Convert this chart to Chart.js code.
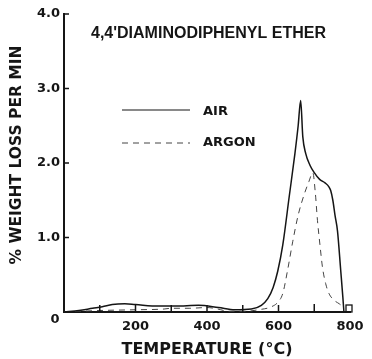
<!DOCTYPE html>
<html>
<head>
<meta charset="utf-8">
<script src="https://cdn.jsdelivr.net/npm/chart.js@4.4.0/dist/chart.umd.min.js"></script>
<style>
  html, body { margin: 0; padding: 0; background: #fff; }
  #wrap { width: 372px; height: 359px; }
</style>
</head>
<body>
<div id="wrap"><canvas id="grafico" width="372" height="359"></canvas></div>
<script>
// datos (temperatura en °C, % perdida de peso por min)
const tempAire = [0, 42, 80, 107, 135, 170, 200, 265, 312, 376, 432, 478, 524, 552, 570, 585, 598, 612, 630, 646, 655, 662, 668, 676, 688, 700, 715, 731, 741, 746, 752, 758, 765, 774, 780, 783];
const perdidaAire = [0, 0.02, 0.05, 0.07, 0.10, 0.11, 0.10, 0.08, 0.08, 0.09, 0.06, 0.03, 0.04, 0.09, 0.18, 0.33, 0.55, 0.90, 1.55, 2.13, 2.50, 2.84, 2.35, 2.13, 1.97, 1.87, 1.78, 1.73, 1.68, 1.63, 1.50, 1.30, 1.09, 0.56, 0.20, 0];

const tempArgon = [0, 100, 200, 280, 300, 350, 400, 430, 460, 510, 543, 580, 600, 612, 625, 640, 655, 672, 685, 696, 703, 709, 716, 723, 732, 741, 755, 770, 783];
const perdidaArgon = [0, 0.02, 0.03, 0.04, 0.05, 0.05, 0.06, 0.04, 0.01, 0.01, 0.03, 0.07, 0.14, 0.25, 0.55, 0.95, 1.30, 1.58, 1.75, 1.87, 1.60, 1.23, 0.90, 0.60, 0.38, 0.25, 0.16, 0.11, 0.06];

const ticksX = [100, 200, 300, 400, 500, 600, 700];
const ticksY = [1, 2, 3, 4];

const tinta = '#151515';
const fuenteEje = '"DejaVu Sans", sans-serif';

function puntos(xs, ys) {
    return xs.map((x, i) => ({ x: x, y: ys[i] }));
}

// marcas hacia adentro, titulo, leyenda y el "0" de la esquina
const extras = {
    id: 'extras',
    afterDraw(chart) {
        const ctx = chart.ctx;
        const sx = chart.scales.x;
        const sy = chart.scales.y;
        const base = sy.getPixelForValue(0);
        const izq = sx.getPixelForValue(0);
        ctx.save();
        ctx.strokeStyle = tinta;
        ctx.lineWidth = 1.5;
        ctx.beginPath();
        ticksX.forEach(v => {
            const px = sx.getPixelForValue(v);
            ctx.moveTo(px, base);
            ctx.lineTo(px, base - (v === 700 ? 8 : 7));
        });
        ticksY.forEach(v => {
            const py = sy.getPixelForValue(v);
            ctx.moveTo(izq, py);
            ctx.lineTo(izq + 5, py);
        });
        ctx.stroke();
        // cajita al final del eje x
        const px800 = sx.getPixelForValue(800);
        ctx.lineWidth = 1.3;
        ctx.strokeRect(px800 - 4, base - 7, 6, 7);

        ctx.fillStyle = tinta;
        ctx.textBaseline = 'middle';
        ctx.font = 'bold 13px ' + fuenteEje;
        ctx.textAlign = 'center';
        ctx.fillText('0', 55, 320);

        ctx.textAlign = 'left';
        ctx.font = 'bold 16px "Liberation Sans", sans-serif';
        ctx.fillText("4,4'DIAMINODIPHENYL ETHER", 91, 34);

        // leyenda
        ctx.font = 'bold 13px ' + fuenteEje;
        ctx.fillText('AIR', 203, 112);
        ctx.fillText('ARGON', 203, 143);
        ctx.lineWidth = 1.2;
        ctx.beginPath();
        ctx.moveTo(122, 110);
        ctx.lineTo(190, 110);
        ctx.stroke();
        ctx.strokeStyle = '#444';
        ctx.lineWidth = 1;
        ctx.setLineDash([6, 5]);
        ctx.beginPath();
        ctx.moveTo(122, 143);
        ctx.lineTo(190, 143);
        ctx.stroke();
        ctx.setLineDash([]);

        // titulo del eje y
        ctx.translate(17, 155);
        ctx.rotate(-Math.PI / 2);
        ctx.textAlign = 'center';
        ctx.font = 'bold 15.5px ' + fuenteEje;
        ctx.fillText('% WEIGHT LOSS PER MIN', 0, 0);
        ctx.restore();
    }
};

new Chart(document.getElementById('grafico'), {
    type: 'line',
    data: {
        datasets: [
            {
                label: 'AIR',
                data: puntos(tempAire, perdidaAire),
                borderColor: tinta,
                borderWidth: 1.5,
                pointRadius: 0,
                cubicInterpolationMode: 'monotone'
            },
            {
                label: 'ARGON',
                data: puntos(tempArgon, perdidaArgon),
                borderColor: '#444',
                borderWidth: 1,
                borderDash: [6, 5],
                pointRadius: 0,
                cubicInterpolationMode: 'monotone'
            }
        ]
    },
    options: {
        responsive: false,
        animation: false,
        layout: { padding: { top: 14, right: 22, left: 0, bottom: 0 } },
        plugins: {
            legend: { display: false },
            tooltip: { enabled: false }
        },
        scales: {
            x: {
                type: 'linear',
                min: 0,
                max: 800,
                afterFit: s => { s.height = 47; },
                border: { color: tinta, width: 2 },
                grid: { display: true, drawOnChartArea: false, drawTicks: false },
                ticks: {
                    stepSize: 100,
                    autoSkip: false,
                    maxRotation: 0,
                    padding: 7,
                    color: tinta,
                    font: { family: fuenteEje, size: 13, weight: 'bold' },
                    callback: v => (v > 0 && v % 200 === 0) ? String(v) : ''
                },
                title: {
                    display: true,
                    text: 'TEMPERATURE (°C)',
                    color: tinta,
                    padding: { top: 0, bottom: 0 },
                    font: { family: fuenteEje, size: 16, weight: 'bold' }
                }
            },
            y: {
                min: 0,
                max: 4,
                afterFit: s => { s.width = 64; },
                border: { color: tinta, width: 2 },
                grid: { display: true, drawOnChartArea: false, drawTicks: false },
                ticks: {
                    stepSize: 1,
                    padding: 4,
                    color: tinta,
                    font: { family: fuenteEje, size: 13, weight: 'bold' },
                    callback: v => v === 0 ? '' : v.toFixed(1)
                }
            }
        }
    },
    plugins: [extras]
});
</script>
</body>
</html>
